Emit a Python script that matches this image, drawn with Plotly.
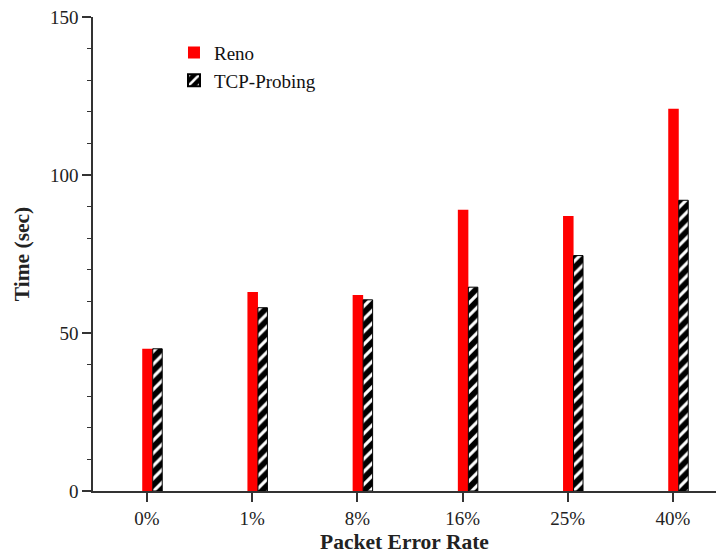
import plotly.graph_objects as go

# Packet error rates (categories) and completion times in seconds
error_rates = ["0%", "1%", "8%", "16%", "25%", "40%"]
reno_time = [45, 63, 62, 89, 87, 121]
probing_time = [45, 58, 60.5, 64.5, 74.5, 92]

x_pos = list(range(len(error_rates)))
axis_color = "#333333"
serif = "Liberation Serif, Times New Roman, serif"

fig = go.Figure()
fig.add_trace(go.Bar(
    x=x_pos, y=reno_time, name="Reno",
    offset=-0.045, width=0.1,
    marker=dict(color="#ff0000", line=dict(width=0)),
))
fig.add_trace(go.Bar(
    x=x_pos, y=probing_time, name="TCP-Probing",
    offset=0.055, width=0.09,
    marker=dict(
        color="#000000",
        line=dict(color="#000000", width=1),
        pattern=dict(shape="/", bgcolor="#000000", fgcolor="#ffffff",
                     size=9, solidity=0.35, fillmode="replace"),
    ),
))

fig.update_layout(
    width=716, height=558,
    margin=dict(l=93, r=0, t=17, b=67),
    paper_bgcolor="white", plot_bgcolor="white",
    font=dict(family=serif, size=19, color="#222222"),
    barmode="overlay",
    showlegend=True,
    legend=dict(x=0.13, y=0.965, xanchor="left", yanchor="top",
                font=dict(family=serif, size=19, color="#111111"),
                bgcolor="rgba(0,0,0,0)", itemsizing="constant",
                tracegroupgap=0),
    xaxis=dict(
        range=[-0.513, 5.409],
        tickmode="array", tickvals=x_pos, ticktext=error_rates,
        showline=True, linecolor=axis_color, linewidth=1.5,
        ticks="outside", ticklen=9, tickwidth=1.5, tickcolor=axis_color,
        showgrid=False, zeroline=False,
        title=dict(text="<b>Packet Error Rate</b>", font=dict(size=21.5), standoff=6),
    ),
    yaxis=dict(
        range=[0, 150],
        tickvals=[0, 50, 100, 150],
        showline=True, linecolor=axis_color, linewidth=1.5,
        ticks="outside", ticklen=9, tickwidth=1.5, tickcolor=axis_color,
        minor=dict(dtick=10, ticks="outside", ticklen=4, tickwidth=1.2,
                   tickcolor=axis_color, showgrid=False),
        showgrid=False, zeroline=False,
        title=dict(text="<b>Time (sec)</b>", font=dict(size=21.5), standoff=14),
    ),
)

fig.write_html("out.html")
